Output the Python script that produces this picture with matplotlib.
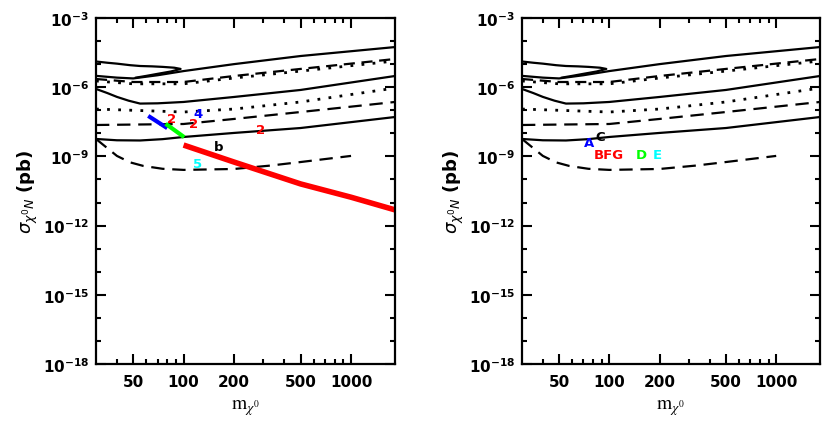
import numpy as np
import matplotlib
matplotlib.use('Agg')
import matplotlib.pyplot as plt
from matplotlib.ticker import FixedLocator, NullFormatter

# curves (mass in GeV, cross section in pb)
top_x = [30, 40, 50, 70, 100, 200, 500, 1830]
top_y = [3.1e-6, 2.6e-6, 2.4e-6, 3.3e-6, 5.0e-6, 1.0e-5, 2.25e-5, 5.5e-5]

loop_x = [30, 35, 40, 48, 55, 65, 75, 88, 96, 84, 70, 60, 52]
loop_y = [1.3e-5, 1.15e-5, 1.05e-5, 9.0e-6, 8.3e-6, 8.0e-6, 7.6e-6, 7.0e-6, 6.2e-6,
          4.8e-6, 3.8e-6, 3.1e-6, 2.6e-6]

dash1_x = [30, 50, 100, 200, 500, 1830]
dash1_y = [2.27e-6, 1.68e-6, 1.68e-6, 3.06e-6, 6.2e-6, 1.67e-5]
dot1_y = [1.86e-6, 1.4e-6, 1.4e-6, 2.5e-6, 5.0e-6, 1.37e-5]

mid_x = [30, 35, 40, 47, 55, 70, 100, 200, 500, 1830]
mid_y = [8.4e-7, 5.6e-7, 3.8e-7, 2.6e-7, 1.95e-7, 2.0e-7, 2.29e-7, 3.77e-7, 7.6e-7, 3.06e-6]

dot2_x = [30, 100, 200, 500, 1830]
dot2_y = [1.13e-7, 8.4e-8, 1.13e-7, 2.29e-7, 9.2e-7]

dash2_x = [30, 100, 200, 500, 1830]
dash2_y = [2.3e-8, 2.54e-8, 4.2e-8, 8.4e-8, 2.29e-7]

low_x = [30, 40, 55, 75, 100, 200, 500, 1830]
low_y = [5.7e-9, 5.0e-9, 4.9e-9, 5.6e-9, 6.95e-9, 1.04e-8, 1.7e-8, 5.1e-8]

dash3_x = [30, 35, 40, 48, 57.6, 75, 100, 200, 330, 500, 1000]
dash3_y = [5.7e-9, 2.3e-9, 1.05e-9, 5.5e-10, 3.85e-10, 2.9e-10, 2.6e-10, 2.85e-10, 4.0e-10, 5.7e-10, 1.05e-9]

red_x = [100, 200, 500, 1000, 1830]
red_y = [3.1e-9, 5.7e-10, 6.4e-11, 1.7e-11, 4.8e-12]

blue_x = [63, 78]
blue_y = [5.1e-8, 1.88e-8]
green_x = [80, 98.6]
green_y = [2.3e-8, 7.7e-9]

left_labels = ['2', '4', '2', '2', 'b', '5']
left_lab_x = [85, 122, 115, 289, 162, 121]
left_lab_y = [4.6e-8, 7.5e-8, 2.8e-8, 1.4e-8, 2.8e-9, 4.7e-10]
left_lab_c = ['red', 'blue', 'red', 'red', 'black', 'cyan']

right_labels = ['A', 'C', 'BFG', 'D', 'E']
right_lab_x = [76, 88, 100, 155, 193]
right_lab_y = [4.2e-9, 7.2e-9, 1.15e-9, 1.15e-9, 1.15e-9]
right_lab_c = ['blue', 'black', 'red', 'lime', 'cyan']

ymajor = [1e-18, 1e-15, 1e-12, 1e-9, 1e-6, 1e-3]
ylabels = [r'$\mathbf{10^{-18}}$', r'$\mathbf{10^{-15}}$', r'$\mathbf{10^{-12}}$',
           r'$\mathbf{10^{-9}}$', r'$\mathbf{10^{-6}}$', r'$\mathbf{10^{-3}}$']
yminor = [10.0**k for k in range(-18, -2)]
xmajor = [50, 100, 200, 500, 1000]
xminor = [40, 60, 70, 80, 90, 300, 400, 600, 700, 800, 900]


def draw_panel(ax):
    lw = 1.6
    ax.plot(top_x, top_y, color='black', lw=lw)
    ax.plot(loop_x, loop_y, color='black', lw=lw)
    ax.plot(dash1_x, dash1_y, color='black', lw=lw, ls=(0, (5, 3)))
    ax.plot(dash1_x, dot1_y, color='black', lw=2, ls=(0, (1, 3)))
    ax.plot(mid_x, mid_y, color='black', lw=lw)
    ax.plot(dot2_x, dot2_y, color='black', lw=2, ls=(0, (1, 3)))
    ax.plot(dash2_x, dash2_y, color='black', lw=lw, ls=(0, (6, 3.5)))
    ax.plot(low_x, low_y, color='black', lw=lw)
    ax.plot(dash3_x, dash3_y, color='black', lw=lw, ls=(0, (6, 3.5)))

    ax.set_xscale('log')
    ax.set_yscale('log')
    ax.set_xlim(30, 1830)
    ax.set_ylim(1e-18, 1e-3)
    ax.yaxis.set_major_locator(FixedLocator(ymajor))
    ax.set_yticklabels(ylabels)
    ax.yaxis.set_minor_locator(FixedLocator(yminor))
    ax.yaxis.set_minor_formatter(NullFormatter())
    ax.xaxis.set_major_locator(FixedLocator(xmajor))
    ax.set_xticklabels([str(v) for v in xmajor], fontweight='bold')
    ax.xaxis.set_minor_locator(FixedLocator(xminor))
    ax.xaxis.set_minor_formatter(NullFormatter())
    ax.tick_params(which='both', direction='in', top=True, right=True, width=1.5)
    ax.tick_params(which='major', length=7, labelsize=11)
    ax.tick_params(axis='y', which='major', pad=5)
    ax.tick_params(axis='x', which='major', pad=7)
    ax.tick_params(which='minor', length=3.5)
    for s in ax.spines.values():
        s.set_linewidth(1.6)
    ax.set_xlabel(r'$\mathrm{m}_{\chi^0}$', fontsize=14, math_fontfamily='stix', labelpad=6)
    ax.set_ylabel(r'$\sigma_{\chi^0 N}$ (pb)', fontsize=13, fontweight='bold', labelpad=2)


fig = plt.figure(figsize=(8.3, 4.27), dpi=100)
ax1 = fig.add_axes([96 / 830, 62 / 427, 299 / 830, 346 / 427])
ax2 = fig.add_axes([522 / 830, 62 / 427, 298 / 830, 346 / 427])

draw_panel(ax1)
ax1.plot(red_x, red_y, color='red', lw=4, solid_capstyle='butt')
ax1.plot(blue_x, blue_y, color='blue', lw=3)
ax1.plot(green_x, green_y, color='lime', lw=3)
for t, x, y, c in zip(left_labels, left_lab_x, left_lab_y, left_lab_c):
    ax1.text(x, y, t, color=c, fontsize=9.5, fontweight='heavy', family='DejaVu Sans',
             ha='center', va='center')

draw_panel(ax2)
for t, x, y, c in zip(right_labels, right_lab_x, right_lab_y, right_lab_c):
    ax2.text(x, y, t, color=c, fontsize=9.5, fontweight='heavy', family='DejaVu Sans',
             ha='center', va='center')

fig.savefig('out.png', dpi=100)
